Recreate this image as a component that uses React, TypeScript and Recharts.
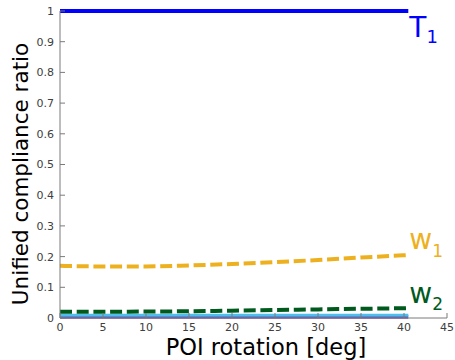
import { Label, LabelList, Line, LineChart, XAxis, YAxis } from "recharts";

// POI rotation [deg]
const rotation = [0, 5, 10, 15, 20, 25, 30, 35, 40.5];
// unified compliance ratios
const t1 = [1, 1, 1, 1, 1, 1, 1, 1, 1];
const w1 = [0.17, 0.168, 0.168, 0.171, 0.176, 0.182, 0.189, 0.197, 0.205];
const w2 = [0.02, 0.02, 0.021, 0.022, 0.024, 0.026, 0.028, 0.03, 0.032];
const lightBlue = [0.0098, 0.0098, 0.0098, 0.0098, 0.0098, 0.0098, 0.0098, 0.0098, 0.0098];
const blue = [0.0065, 0.0065, 0.0065, 0.0065, 0.0065, 0.0065, 0.0065, 0.0065, 0.0065];
const purple = [0.001, 0.001, 0.001, 0.001, 0.001, 0.001, 0.001, 0.001, 0.001];

const xTicks = [0, 5, 10, 15, 20, 25, 30, 35, 40, 45];
const yTicks = [0, 0.1, 0.2, 0.3, 0.4, 0.5, 0.6, 0.7, 0.8, 0.9, 1];

const data = rotation.map((r, i) => ({
  r,
  t1: t1[i],
  w1: w1[i],
  w2: w2[i],
  lightBlue: lightBlue[i],
  blue: blue[i],
  purple: purple[i],
}));

const font = "DejaVu Sans";
const boxColor = "#7a7a7a";
const tickStyle = { fill: "#404040", fontSize: 11, fontFamily: font };
const blank = () => "";

/* name + subscript written next to the last point of a series */
const endLabel =
  (name: string, sub: string, color: string, size: number, subSize: number, dy: number, subDy: number) =>
  (props: any) => {
    const { x, y, index } = props;
    if (index !== rotation.length - 1) return null;
    return (
      <text x={x + 1} y={y + dy} fill={color} fontFamily={font} fontSize={size}>
        {name}
        <tspan fontSize={subSize} dy={subDy}>
          {sub}
        </tspan>
      </text>
    );
  };

export default function App() {
  return (
    <div style={{ position: "absolute", left: 0, top: 0 }}>
      <LineChart width={455} height={360} data={data} margin={{ top: 11, right: 8, left: 0, bottom: 0 }}>
        <XAxis
          xAxisId="bottom"
          dataKey="r"
          type="number"
          domain={[0, 45]}
          ticks={xTicks}
          height={42}
          tickSize={-5}
          tickMargin={10}
          stroke={boxColor}
          tick={tickStyle}
        >
          <Label
            content={() => (
              <text x={266} y={355} textAnchor="middle" fill="#000" fontFamily={font} fontSize={22.5}>
                POI rotation [deg]
              </text>
            )}
          />
        </XAxis>
        <XAxis
          xAxisId="top"
          orientation="top"
          dataKey="r"
          type="number"
          domain={[0, 45]}
          ticks={xTicks}
          height={0}
          tickSize={-5}
          stroke={boxColor}
          tickFormatter={blank}
        />
        <YAxis
          yAxisId="left"
          type="number"
          domain={[0, 1]}
          ticks={yTicks}
          width={60}
          tickSize={-5}
          tickMargin={11}
          stroke={boxColor}
          tick={tickStyle}
        >
          <Label
            content={() => (
              <text
                x={28}
                y={174}
                transform="rotate(-90, 28, 174)"
                textAnchor="middle"
                fill="#000"
                fontFamily={font}
                fontSize={21.5}
              >
                Unified compliance ratio
              </text>
            )}
          />
        </YAxis>
        <YAxis
          yAxisId="right"
          orientation="right"
          type="number"
          domain={[0, 1]}
          ticks={yTicks}
          width={0}
          tickSize={-5}
          stroke={boxColor}
          tickFormatter={blank}
        />
        <Line xAxisId="bottom" yAxisId="left" dataKey="purple" stroke="#8e44ad" strokeWidth={2} dot={false} isAnimationActive={false} />
        <Line xAxisId="bottom" yAxisId="left" dataKey="blue" stroke="#2f8fd8" strokeWidth={2} dot={false} isAnimationActive={false} />
        <Line xAxisId="bottom" yAxisId="left" dataKey="lightBlue" stroke="#4dbeee" strokeWidth={2.5} dot={false} isAnimationActive={false} />
        <Line
          xAxisId="bottom"
          yAxisId="left"
          dataKey="w2"
          type="monotone"
          stroke="#005a1e"
          strokeWidth={4}
          strokeDasharray="12 4.7"
          dot={false}
          isAnimationActive={false}
        >
          <LabelList dataKey="w2" content={endLabel("w", "2", "#005a1e", 28, 17, -5, 7)} />
        </Line>
        <Line
          xAxisId="bottom"
          yAxisId="left"
          dataKey="w1"
          type="monotone"
          stroke="#edb120"
          strokeWidth={4}
          strokeDasharray="12 4.7"
          dot={false}
          isAnimationActive={false}
        >
          <LabelList dataKey="w1" content={endLabel("w", "1", "#edb120", 28, 17, -6, 8)} />
        </Line>
        <Line xAxisId="bottom" yAxisId="left" dataKey="t1" stroke="#0000ff" strokeWidth={4} dot={false} isAnimationActive={false}>
          <LabelList dataKey="t1" content={endLabel("T", "1", "#0000ff", 28, 18, 26, 6)} />
        </Line>
      </LineChart>
    </div>
  );
}
